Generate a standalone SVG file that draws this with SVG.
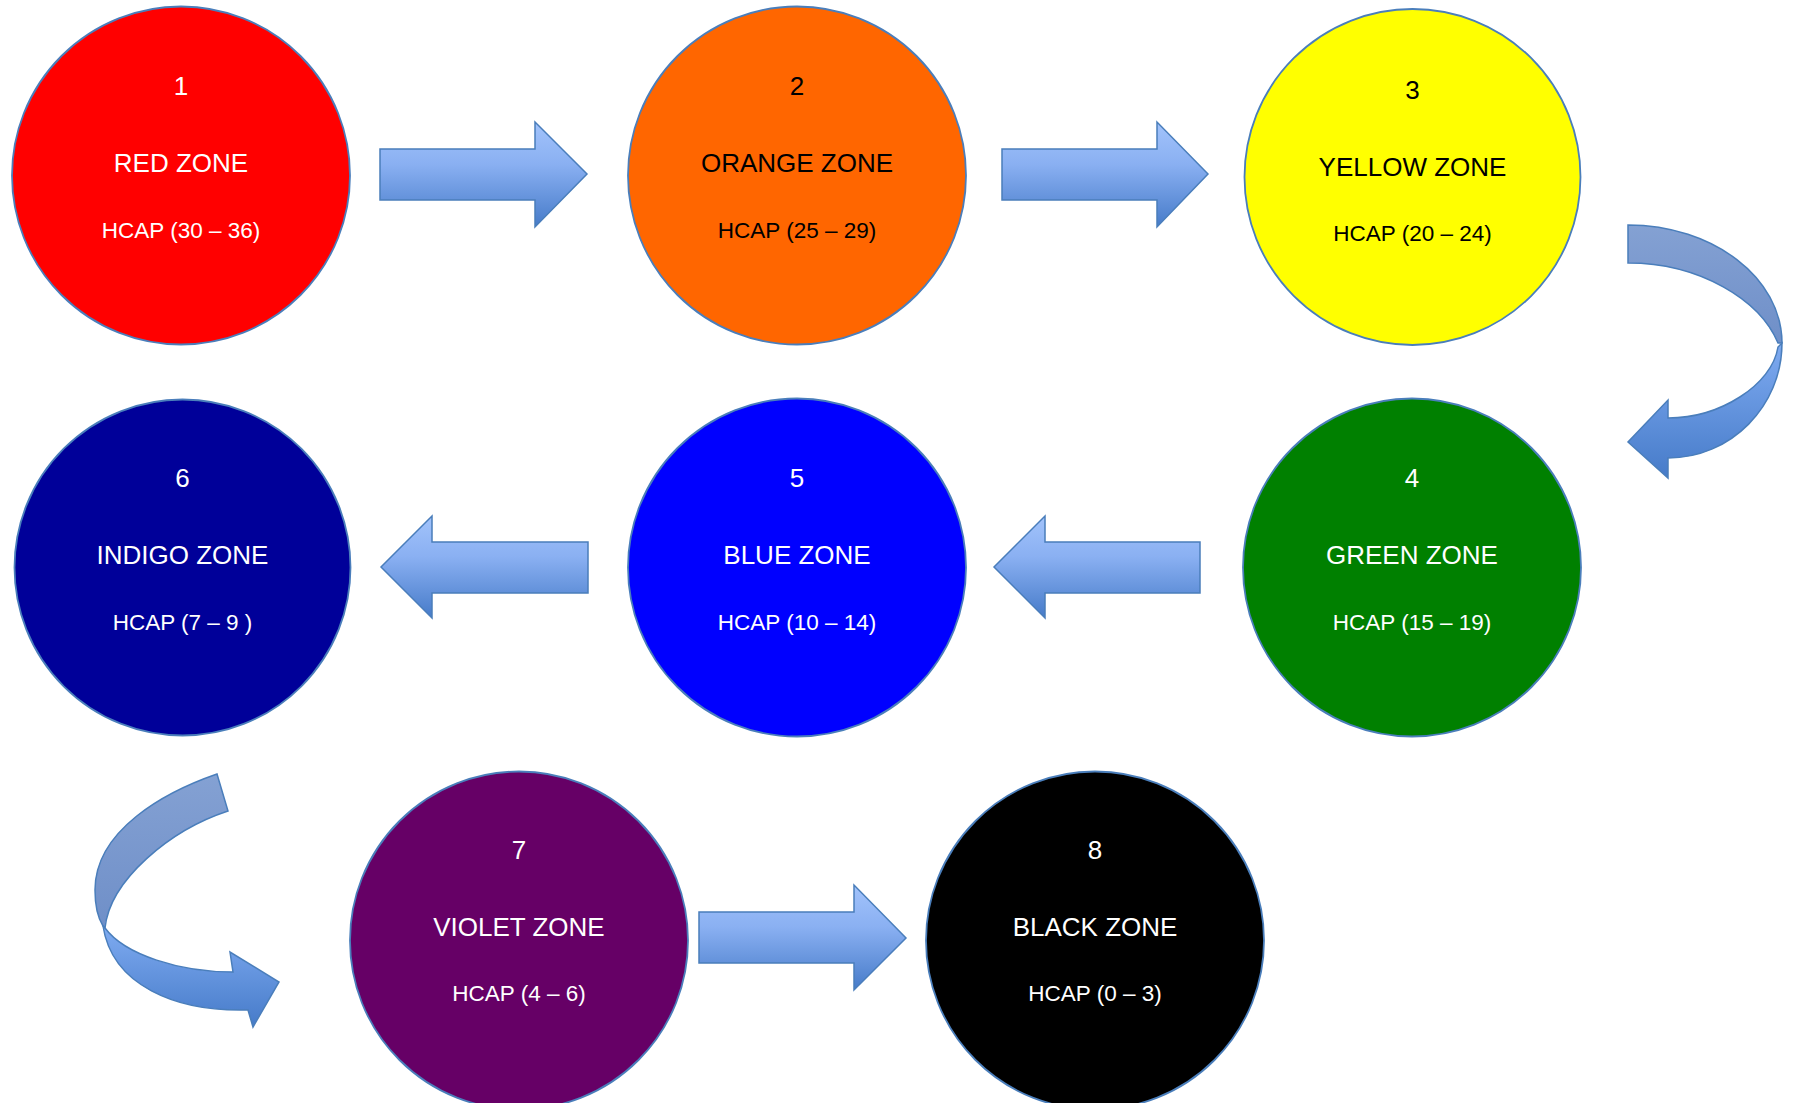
<svg xmlns="http://www.w3.org/2000/svg" width="1794" height="1103" viewBox="0 0 1794 1103">
<defs>
<linearGradient id="gArrow" x1="0" y1="0" x2="0" y2="1">
<stop offset="0" stop-color="#A2C3FB"/>
<stop offset="0.4" stop-color="#8AB0F2"/>
<stop offset="1" stop-color="#467BC9"/>
</linearGradient>
<linearGradient id="gFront" x1="0" y1="0" x2="0" y2="1">
<stop offset="0" stop-color="#7FABF1"/>
<stop offset="1" stop-color="#467BC9"/>
</linearGradient>
<linearGradient id="gBack" x1="0" y1="0" x2="0" y2="1">
<stop offset="0" stop-color="#84A1D3"/>
<stop offset="1" stop-color="#6F8FC8"/>
</linearGradient>
</defs>
<style>
.zone{stroke:#4A7EBB;stroke-width:1.8}
.arrow{fill:url(#gArrow);stroke:#4A7EBB;stroke-width:1.5;stroke-linejoin:miter}
.front{fill:url(#gFront);stroke:#4A7EBB;stroke-width:1.5}
.back{fill:url(#gBack);stroke:#4A7EBB;stroke-width:1.5}
text{font-family:"Liberation Sans",Arial,sans-serif;text-anchor:middle}
.num,.name{font-size:26px}
.hcap{font-size:22.5px}
.w{fill:#FFFFFF}
.k{fill:#000000}
</style>
<rect width="1794" height="1103" fill="#FFFFFF"/>
<g id="connectors">
<path class="arrow" d="M380,149 H535 V122 L587,174 L535,227 V200 H380 Z"/>
<path class="arrow" d="M1002,149 H1157 V122 L1208,174 L1157,227 V200 H1002 Z"/>
<path class="back" d="M1628,225 C1713,225 1782,278 1782,343 L1778,343 C1760,300 1700,263 1628,263 Z"/>
<path class="front" d="M1782,343 C1782,406 1731,458 1668,458 L1668,478 L1628,442 L1668,400 L1668,418 C1720,418 1772,385 1778,347 Z"/>
<path class="arrow" d="M1200,542 H1045 V516 L994,567 L1045,618 V593 H1200 Z"/>
<path class="arrow" d="M588,542 H432 V516 L381,567 L432,618 V593 H588 Z"/>
<path class="back" d="M217,774 C165,792 95,830 95,890 C95,905 98,918 103,926 L105,928 C110,880 170,830 228,811 Z"/>
<path class="front" d="M103,926 C112,985 175,1012 248,1010 L253,1027 L279,982 L230,952 L233,972 C180,972 125,955 105,928 Z"/>
<path class="arrow" d="M699,912 H854 V885 L906,938 L854,990 V963 H699 Z"/>
</g>
<g id="zone1">
<circle class="zone" cx="181" cy="175.5" r="169" fill="#FF0000"/>
<text class="num w" x="181" y="95">1</text>
<text class="name w" x="181" y="172">RED ZONE</text>
<text class="hcap w" x="181" y="238">HCAP (30 – 36)</text>
</g>
<g id="zone2">
<circle class="zone" cx="797" cy="175.5" r="169" fill="#FF6600"/>
<text class="num k" x="797" y="95">2</text>
<text class="name k" x="797" y="172">ORANGE ZONE</text>
<text class="hcap k" x="797" y="238">HCAP (25 – 29)</text>
</g>
<g id="zone3">
<circle class="zone" cx="1412.5" cy="177" r="168" fill="#FFFF00"/>
<text class="num k" x="1412.5" y="99">3</text>
<text class="name k" x="1412.5" y="176">YELLOW ZONE</text>
<text class="hcap k" x="1412.5" y="241">HCAP (20 – 24)</text>
</g>
<g id="zone4">
<circle class="zone" cx="1412" cy="567.5" r="169" fill="#008000"/>
<text class="num w" x="1412" y="487">4</text>
<text class="name w" x="1412" y="564">GREEN ZONE</text>
<text class="hcap w" x="1412" y="630">HCAP (15 – 19)</text>
</g>
<g id="zone5">
<circle class="zone" cx="797" cy="567.5" r="169" fill="#0000FF"/>
<text class="num w" x="797" y="487">5</text>
<text class="name w" x="797" y="564">BLUE ZONE</text>
<text class="hcap w" x="797" y="630">HCAP (10 – 14)</text>
</g>
<g id="zone6">
<circle class="zone" cx="182.5" cy="567.5" r="168" fill="#000099"/>
<text class="num w" x="182.5" y="487">6</text>
<text class="name w" x="182.5" y="564">INDIGO ZONE</text>
<text class="hcap w" x="182.5" y="630">HCAP (7 – 9 )</text>
</g>
<g id="zone7">
<circle class="zone" cx="519" cy="940.5" r="169" fill="#660066"/>
<text class="num w" x="519" y="859">7</text>
<text class="name w" x="519" y="936">VIOLET ZONE</text>
<text class="hcap w" x="519" y="1001">HCAP (4 – 6)</text>
</g>
<g id="zone8">
<circle class="zone" cx="1095" cy="940.5" r="169" fill="#000000"/>
<text class="num w" x="1095" y="859">8</text>
<text class="name w" x="1095" y="936">BLACK ZONE</text>
<text class="hcap w" x="1095" y="1001">HCAP (0 – 3)</text>
</g>
</svg>
